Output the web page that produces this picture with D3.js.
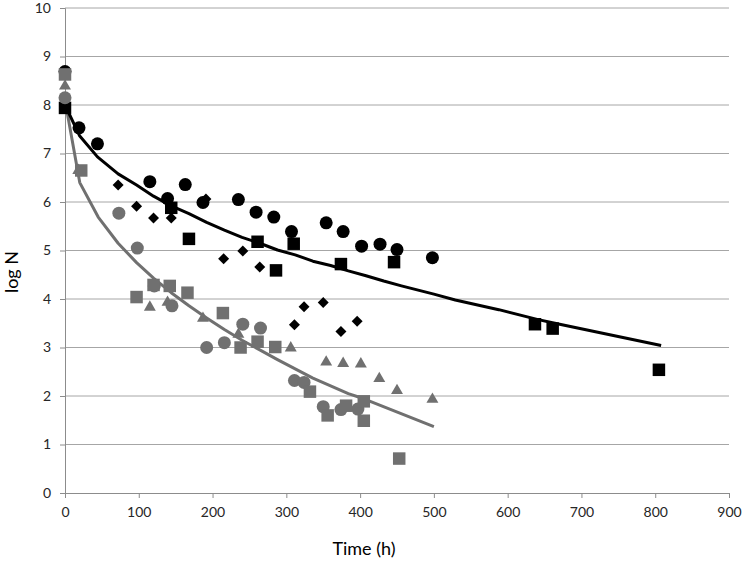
<!DOCTYPE html>
<html><head><meta charset="utf-8">
<script src="https://cdn.jsdelivr.net/npm/d3@7"></script>
<style>body{margin:0;background:#fff}svg{display:block}</style>
</head><body><svg id="c" width="742" height="561"></svg>
<script>
// ---- data ----
const xTicks = [0,100,200,300,400,500,600,700,800,900];
const yTicks = [0,1,2,3,4,5,6,7,8,9,10];

const blackCircleT    = [0, 19, 44, 115, 139, 163, 187, 235, 259, 283, 307, 354, 377, 402, 427, 450, 498];
const blackCircleLogN = [8.69, 7.53, 7.2, 6.42, 6.07, 6.36, 5.99, 6.05, 5.79, 5.69, 5.39, 5.57, 5.39, 5.09, 5.13, 5.02, 4.85];

const blackSquareT    = [0, 144, 168, 261, 286, 310, 374, 446, 637, 661, 805];
const blackSquareLogN = [7.94, 5.88, 5.24, 5.18, 4.59, 5.14, 4.72, 4.76, 3.48, 3.39, 2.54];

const blackDiamondT    = [72, 97, 120, 144, 191, 215, 241, 264, 311, 324, 350, 374, 396];
const blackDiamondLogN = [6.35, 5.91, 5.67, 5.67, 6.06, 4.83, 4.99, 4.66, 3.47, 3.84, 3.93, 3.33, 3.54];

const greyCircleT    = [0, 73, 98, 121, 145, 192, 216, 241, 265, 311, 324, 350, 374, 397];
const greyCircleLogN = [8.15, 5.77, 5.05, 4.27, 3.86, 3.0, 3.1, 3.48, 3.40, 2.32, 2.28, 1.78, 1.72, 1.73];

const greySquareT    = [0, 22, 97, 120, 142, 166, 214, 238, 261, 285, 332, 356, 381, 405, 405, 453];
const greySquareLogN = [8.63, 6.65, 4.04, 4.29, 4.27, 4.13, 3.71, 3.0, 3.12, 3.01, 2.09, 1.6, 1.8, 1.89, 1.49, 0.71];

const greyTriangleT    = [0, 18, 115, 139, 187, 235, 306, 354, 377, 401, 426, 450, 498];
const greyTriangleLogN = [8.39, 6.65, 3.83, 3.93, 3.6, 3.27, 2.99, 2.7, 2.67, 2.66, 2.36, 2.11, 1.93];

const blackFitT    = [0, 20, 44, 72, 97, 120, 144, 168, 192, 216, 240, 264, 288, 312, 336, 360, 384, 408, 432, 456, 500, 529, 588, 640, 664, 808];
const blackFitLogN = [8.0, 7.36, 6.93, 6.58, 6.35, 6.12, 5.92, 5.76, 5.58, 5.42, 5.27, 5.15, 5.01, 4.91, 4.78, 4.69, 4.58, 4.48, 4.37, 4.27, 4.10, 3.98, 3.78, 3.58, 3.50, 3.04];

const greyFitT    = [0, 20, 45, 72, 97, 120, 144, 168, 192, 216, 240, 264, 288, 312, 336, 360, 384, 400, 500];
const greyFitLogN = [8.1, 6.4, 5.69, 5.15, 4.75, 4.43, 4.13, 3.86, 3.61, 3.37, 3.15, 2.95, 2.75, 2.56, 2.37, 2.21, 2.05, 1.97, 1.37];

// ---- chart ----
const BLACK = "#000000", GREY = "#707070";
const svg = d3.select("#c");
const M = {left: 65, right: 729, top: 8, bottom: 493};
const x = d3.scaleLinear().domain([0, 900]).range([M.left, M.right]);
const y = d3.scaleLinear().domain([0, 10]).range([M.bottom, M.top]);
const font = "Lato, 'Open Sans', sans-serif";

// gridlines
svg.append("g").selectAll("line").data(yTicks.filter(d => d > 0)).join("line")
  .attr("x1", M.left).attr("x2", M.right)
  .attr("y1", d => y(d)).attr("y2", d => y(d))
  .attr("stroke", "#a6a6a6").attr("stroke-width", 1);

// axes
const xAxis = svg.append("g").attr("transform", `translate(0,${M.bottom})`)
  .call(d3.axisBottom(x).tickValues(xTicks).tickSize(5).tickPadding(9).tickFormat(d3.format("d")));
const yAxis = svg.append("g").attr("transform", `translate(${M.left},0)`)
  .call(d3.axisLeft(y).tickValues(yTicks).tickSize(5).tickPadding(9).tickFormat(d3.format("d")));
[xAxis, yAxis].forEach(g => {
  g.select(".domain").attr("stroke", "#8c8c8c").attr("stroke-width", 1);
  g.selectAll(".tick line").attr("stroke", "#8c8c8c");
  g.selectAll("text").attr("fill", "#262626").style("font-family", font).style("font-size", "14px");
});

// axis titles
svg.append("text").attr("x", 364).attr("y", 555).attr("text-anchor", "middle")
  .style("font-family", font).style("font-size", "18px").attr("fill", "#000").text("Time (h)");
svg.append("text").attr("transform", "translate(18,272) rotate(-90)").attr("text-anchor", "middle")
  .style("font-family", font).style("font-size", "18px").attr("fill", "#000").text("log N");

// fitted curves
const zip = (t, v) => t.map((d, i) => [d, v[i]]);
const line = d3.line().x(d => x(d[0])).y(d => y(d[1]));
svg.append("path").attr("d", line(zip(greyFitT, greyFitLogN)))
  .attr("fill", "none").attr("stroke", GREY).attr("stroke-width", 3).attr("stroke-linejoin", "round");
svg.append("path").attr("d", line(zip(blackFitT, blackFitLogN)))
  .attr("fill", "none").attr("stroke", BLACK).attr("stroke-width", 3).attr("stroke-linejoin", "round");

// markers
const sym = {
  circle: d3.symbol().type(d3.symbolCircle).size(Math.PI * 6.5 * 6.5),
  square: d3.symbol().type(d3.symbolSquare).size(12.5 * 12.5),
  diamond: d3.symbol().type(d3.symbolDiamond2).size(2 * 6.2 * 6.2),
  triangle: d3.symbol().type(d3.symbolTriangle).size(62)
};
function markers(t, v, shape, color) {
  svg.append("g").selectAll("path").data(zip(t, v)).join("path")
    .attr("transform", d => `translate(${x(d[0])},${y(d[1])})`)
    .attr("d", sym[shape]()).attr("fill", color);
}
markers(blackDiamondT, blackDiamondLogN, "diamond", BLACK);
markers(blackCircleT, blackCircleLogN, "circle", BLACK);
markers(blackSquareT, blackSquareLogN, "square", BLACK);
markers(greyTriangleT, greyTriangleLogN, "triangle", GREY);
markers(greyCircleT, greyCircleLogN, "circle", GREY);
markers(greySquareT, greySquareLogN, "square", GREY);
</script>
</body></html>
